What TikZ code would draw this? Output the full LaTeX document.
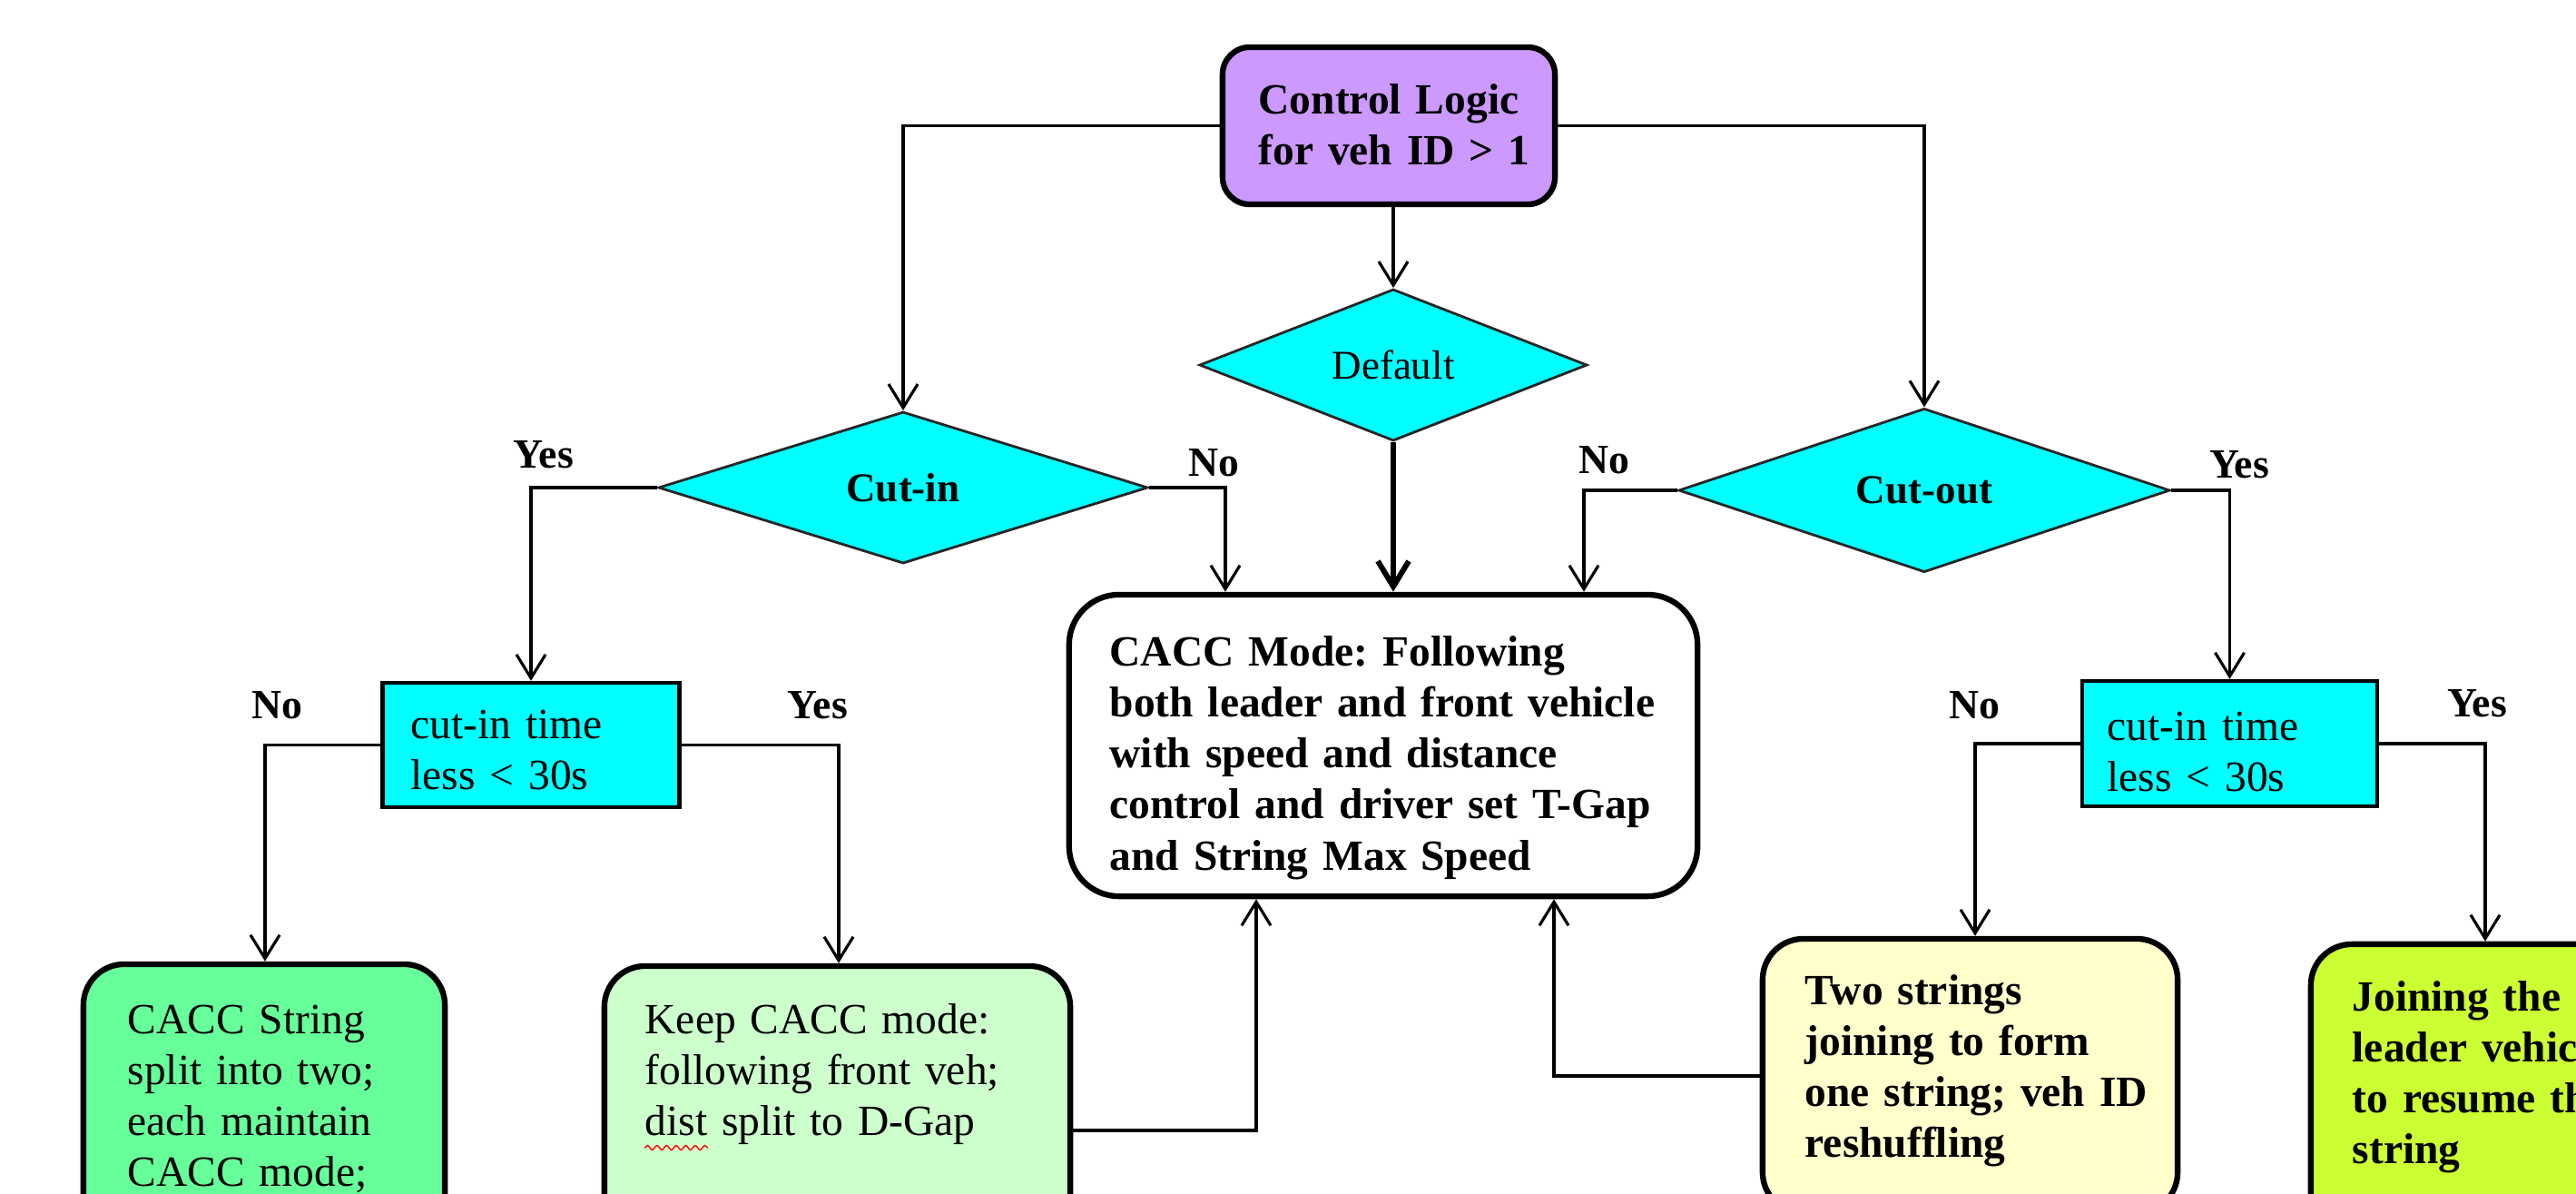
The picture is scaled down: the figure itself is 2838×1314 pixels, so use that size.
\documentclass[tikz,border=0pt]{standalone}
\usepackage{fontspec}
\setmainfont{Liberation Serif}
\usetikzlibrary{arrows.meta,shapes.geometric,decorations.pathmorphing}
\definecolor{violetbox}{HTML}{CC99FF}
\definecolor{cyanbox}{HTML}{00FFFF}
\definecolor{greenbox}{HTML}{66FF99}
\definecolor{palegreen}{HTML}{CCFFCC}
\definecolor{paleyellow}{HTML}{FFFFCC}
\definecolor{limebox}{HTML}{CCFF33}
\frenchspacing
\begin{document}
\begin{tikzpicture}[x=0.01cm,y=-0.01cm,
  rbox/.style={draw=black, line width=1.8pt, rounded corners=0.45cm, inner sep=0pt},
  tbox/.style={draw=black, line width=1.2pt, fill=cyanbox, inner sep=0pt},
  decide/.style={diamond, draw=black!85, line width=0.8pt, fill=cyanbox, inner sep=0pt},
  txtR/.style={anchor=base west, inner sep=0pt, align=left, font=\fontsize{13.5}{16}\selectfont},
  txtB/.style={anchor=base west, inner sep=0pt, align=left, font=\fontsize{13.5}{16}\selectfont\bfseries},
  lab/.style={font=\fontsize{13}{15}\selectfont\bfseries, inner sep=0pt},
  conn/.style={line width=0.9pt, -{Straight Barb[length=2.6mm,width=3.2mm]}},
  thickconn/.style={line width=1.7pt, -{Straight Barb[length=2.8mm,width=3.4mm]}}
]
\useasboundingbox (0,0) rectangle (2838,1314);
\clip (0,0) rectangle (2838,1314);

% boxes
\node[rbox, fill=violetbox, rounded corners=0.3cm, minimum width=3.66cm, minimum height=1.73cm] (ctrl) at (1530,138.5) {};
\node[decide, minimum width=4.27cm, minimum height=1.67cm, font=\fontsize{12.8}{14}\selectfont] (default) at (1535,402) {Default};
\node[decide, minimum width=5.39cm, minimum height=1.67cm, font=\fontsize{12.8}{14}\selectfont\bfseries] (cutin) at (995,537) {Cut-in};
\node[decide, minimum width=5.41cm, minimum height=1.67cm, font=\fontsize{12.8}{14}\selectfont\bfseries] (cutout) at (2120,540) {Cut-out};
\node[rbox, fill=white, rounded corners=0.55cm, minimum width=6.92cm, minimum height=3.32cm] (cacc) at (1524,821) {};
\node[tbox, minimum width=3.27cm, minimum height=1.37cm] (ltime) at (585,820.5) {};
\node[tbox, minimum width=3.25cm, minimum height=1.38cm] (rtime) at (2456.5,819) {};
\node[rbox, fill=greenbox, minimum width=3.98cm, minimum height=3.58cm] (csplit) at (291,1241) {};
\node[rbox, fill=palegreen, minimum width=5.13cm, minimum height=3.62cm] (keep) at (922.5,1245) {};
\node[rbox, fill=paleyellow, minimum width=4.57cm, minimum height=3.02cm] (two) at (2170.5,1185) {};
\node[rbox, fill=limebox, minimum width=4.04cm, minimum height=3.6cm] (join) at (2748,1220) {};

% texts
\node[txtB, text width=3.25cm] (ctrlT) at (1386,125) {Control Logic\\for veh ID > 1};
\node[txtB, text width=6.3cm] (caccT) at (1222,733) {CACC Mode: Following\\both leader and front vehicle\\with speed and distance\\control and driver set T-Gap\\and String Max Speed};
\node[txtR, text width=2.8cm] (ltimeT) at (452,813) {cut-in time\\less < 30s};
\node[txtR, text width=2.8cm] (rtimeT) at (2321,815) {cut-in time\\less < 30s};
\node[txtR, text width=3.3cm] (csplitT) at (140,1138) {CACC String\\split into two;\\each maintain\\CACC mode;};
\node[txtR, text width=4.4cm] (keepT) at (710,1138) {Keep CACC mode:\\following front veh;\\dist split to D-Gap};
\node[txtB, text width=3.9cm] (twoT) at (1988,1106) {Two strings\\joining to form\\one string; veh ID\\reshuffling};
\node[txtB, text width=4cm] (joinT) at (2591,1113) {Joining the\\leader vehicle\\to resume the\\string};
\draw[red, line width=0.4pt, decorate, decoration={snake, amplitude=0.7pt, segment length=3pt}] (710,1264) -- (780,1264);

% labels
\node[lab] (l1) at (599,501) {Yes};
\node[lab] (l2) at (1337,510) {No};
\node[lab] (l3) at (1767,507) {No};
\node[lab] (l4) at (2467,512) {Yes};
\node[lab] (l5) at (305,777) {No};
\node[lab] (l6) at (901,777) {Yes};
\node[lab] (l7) at (2175,777) {No};
\node[lab] (l8) at (2729,775) {Yes};

% helper x positions
\coordinate (xa) at (1350,0);
\coordinate (xb) at (1745,0);
\coordinate (xc) at (292,0);
\coordinate (xd) at (924,0);
\coordinate (xe) at (2176,0);
\coordinate (xf) at (2738,0);
\coordinate (xg) at (1384,0);
\coordinate (xh) at (1712,0);

% connectors
\draw[conn] (ctrl.west) -| (cutin.north);
\draw[conn] (ctrl.east) -| (cutout.north);
\draw[conn] (ctrl.south -| default.north) -- (default.north);
\draw[thickconn] (default.south) -- (cacc.north -| default.south);
\draw[conn] (cutin.west) -| (ltime.north);
\draw[conn] (cutin.east) -| (cacc.north -| xa);
\draw[conn] (cutout.west) -| (cacc.north -| xb);
\draw[conn] (cutout.east) -| (rtime.north);
\draw[conn] (ltime.west) -| (csplit.north -| xc);
\draw[conn] (ltime.east) -| (keep.north -| xd);
\draw[conn] (rtime.west) -| (two.north -| xe);
\draw[conn] (rtime.east) -| (join.north -| xf);
\draw[conn] (keep.east) -| (cacc.south -| xg);
\draw[conn] (two.west) -| (cacc.south -| xh);
\end{tikzpicture}
\end{document}
